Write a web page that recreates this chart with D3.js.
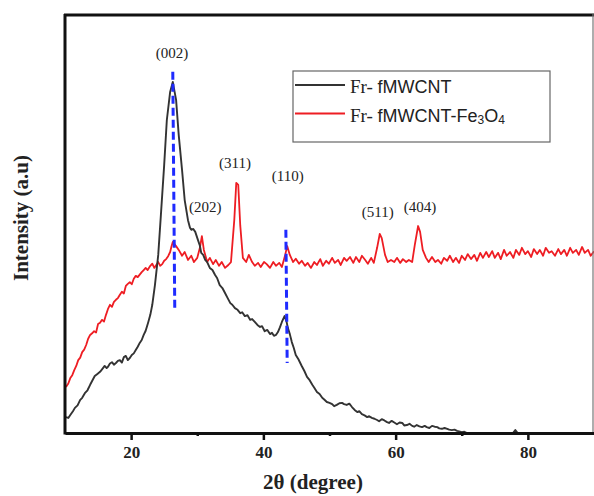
<!DOCTYPE html>
<html>
<head>
<meta charset="utf-8">
<script src="https://cdn.jsdelivr.net/npm/d3@7"></script>
<style>
  body { margin: 0; background: #fff; }
  svg { display: block; }
</style>
</head>
<body>
<div id="graph"></div>
<script>
// Fr- fMWCNT (black)
const mwcntX = [10.15, 10.5, 10.8, 11.2, 11.5, 11.9, 12.3, 12.6, 13.0, 13.4,
  13.8, 14.1, 14.5, 14.9, 15.3, 15.6, 16.0, 16.3, 16.5, 16.8,
  17.1, 17.4, 17.7, 18.0, 18.3, 18.6, 18.9, 19.2, 19.5, 19.8,
  20.1, 20.4, 20.7, 21.0, 21.3, 21.6, 21.9, 22.2, 22.6, 22.9,
  23.2, 23.6, 24.1, 24.5, 25.0, 25.4, 25.9, 26.3, 26.8, 27.2,
  27.7, 28.1, 28.6, 28.9, 29.1, 29.4, 29.7, 30.1, 30.4, 30.6,
  30.9, 31.2, 31.5, 31.9, 32.3, 32.7, 33.0, 33.4, 33.8, 34.2,
  34.6, 35.0, 35.3, 35.7, 36.1, 36.5, 36.8, 37.2, 37.6, 38.0,
  38.3, 38.7, 39.1, 39.5, 39.8, 40.2, 40.6, 41.0, 41.3, 41.6,
  41.9, 42.2, 42.5, 42.8, 43.2, 43.5, 43.7, 44.0, 44.3, 44.6,
  44.9, 45.3, 45.8, 46.2, 46.6, 47.0, 47.4, 47.7, 48.1, 48.5,
  48.9, 49.2, 49.6, 50.0, 50.4, 50.7, 51.1, 51.5, 51.9, 52.2,
  52.6, 53.0, 53.4, 53.8, 54.2, 54.5, 54.9, 55.3, 55.7, 56.0,
  56.4, 56.8, 57.2, 57.5, 57.9, 58.3, 58.7, 59.0, 59.4, 59.8,
  60.2, 60.6, 61.0, 61.3, 61.7, 62.1, 62.5, 62.8, 63.2, 63.6,
  64.0, 64.4, 64.7, 65.1, 65.5, 65.9, 66.3, 66.6, 67.0, 67.4,
  67.8, 68.1, 68.5, 68.9, 69.3, 69.6, 70.0, 70.4, 70.8, 71.5,
  77.6, 78.1, 78.6, 90.0];
const mwcntY = [38, 36, 43, 52, 60, 66, 79, 84, 95, 102,
  115, 124, 136, 141, 146, 152, 160, 155, 158, 166,
  169, 163, 167, 172, 174, 168, 181, 184, 174, 179,
  186, 190, 198, 206, 215, 222, 234, 244, 265, 282,
  306, 353, 425, 520, 640, 747, 814, 838, 795, 711,
  628, 556, 508, 490, 485, 487, 480, 461, 447, 430,
  425, 413, 408, 394, 389, 377, 370, 353, 346, 334,
  322, 310, 306, 298, 294, 286, 288, 279, 281, 270,
  272, 265, 258, 253, 255, 243, 246, 236, 239, 232,
  234, 241, 252, 265, 279, 266, 251, 236, 217, 203,
  186, 176, 160, 148, 134, 126, 115, 108, 98, 93,
  84, 80, 74, 72, 69, 64, 67, 71, 72, 69,
  67, 70, 62, 55, 50, 52, 45, 42, 38, 40,
  36, 34, 31, 28, 33, 30, 26, 24, 29, 25,
  21, 25, 24, 18, 19, 22, 17, 15, 19, 16,
  14, 17, 14, 12, 17, 15, 14, 11, 10, 12,
  10, 8, 7, 8, 5, 4, 2, 3, 0, -3,
  -3, 7, -3, -3];

// Fr- fMWCNT-Fe3O4 (red)
const feX = [10.15, 10.5, 10.8, 11.1, 11.4, 11.7, 12.0, 12.3, 12.6, 12.9,
  13.2, 13.5, 13.8, 14.1, 14.4, 14.7, 15.0, 15.3, 15.6, 15.9,
  16.2, 16.5, 16.8, 17.1, 17.4, 17.7, 18.0, 18.3, 18.6, 18.9,
  19.2, 19.5, 19.8, 20.1, 20.4, 20.7, 21.0, 21.3, 21.6, 21.9,
  22.2, 22.5, 22.9, 23.2, 23.5, 23.8, 24.1, 24.4, 24.7, 25.0,
  25.3, 25.6, 25.9, 26.1, 26.3, 26.8, 27.2, 27.7, 28.1, 28.6,
  29.1, 29.5, 30.0, 30.4, 30.7, 31.0, 31.5,
  31.9, 32.4, 32.8, 33.3, 33.7, 34.2, 34.7, 35.1, 35.6, 35.9, 36.2, 36.5, 36.9, 37.4, 37.8, 38.3, 38.7, 39.2, 39.6, 40.1,
  40.5, 41.0, 41.5, 41.9, 42.4, 42.8, 43.3, 43.6, 44.0, 44.5, 44.9, 45.4, 45.8, 46.3, 46.7, 47.2, 47.7, 48.1, 48.6, 49.0,
  49.5, 49.9, 50.4, 50.8, 51.3, 51.7, 52.2, 52.6, 53.1, 53.6, 54.0, 54.5, 54.9, 55.4, 55.8, 56.3, 56.7, 57.2, 57.6, 57.9,
  58.4, 58.8, 59.3, 59.8, 60.2, 60.7, 61.1, 61.6, 62.0, 62.5, 62.9, 63.4, 63.7, 64.1, 64.6, 65.0, 65.5, 66.0, 66.4, 66.9,
  67.3, 67.8, 68.2, 68.7, 69.1, 69.6, 70.0, 70.5, 70.9, 71.4, 71.9, 72.3, 72.8, 73.2, 73.7, 74.1, 74.6, 75.0, 75.5, 75.9,
  76.4, 76.8, 77.3, 77.8, 78.2, 78.7, 79.1, 79.6, 80.0, 80.5, 80.9, 81.4, 81.8, 82.3, 82.7, 83.2, 83.6, 84.1, 84.6, 85.0,
  85.5, 85.9, 86.4, 86.8, 87.3, 87.7, 88.2, 88.6, 89.1, 89.5, 90.0];
const feY = [110, 118, 131, 138, 150, 160, 174, 180, 193, 199,
  210, 225, 234, 238, 243, 240, 260, 263, 270, 266,
  282, 296, 306, 301, 313, 318, 322, 330, 337, 333,
  351, 356, 360, 355, 368, 375, 372, 378, 384, 389,
  394, 389, 399, 404, 394, 401, 408, 399, 403, 411,
  415, 422, 432, 445, 456, 446, 437, 423, 432, 413,
  423, 408, 418, 442, 470, 437, 408,
  418, 403, 413, 399, 408, 394, 401, 408, 508, 597, 592, 496, 418, 408, 425, 408, 399, 406, 396, 408,
  403, 394, 408, 399, 406, 396, 425, 446, 425, 408, 416, 404, 411, 399, 406, 394, 408, 401, 415, 399,
  411, 404, 418, 406, 413, 401, 418, 411, 420, 406, 420, 408, 423, 413, 404, 418, 406, 442, 475, 465,
  425, 408, 413, 408, 418, 406, 415, 408, 413, 408, 449, 494, 480, 437, 418, 408, 420, 408, 413, 404,
  418, 411, 423, 408, 418, 406, 423, 413, 427, 415, 425, 411, 430, 418, 432, 420, 434, 418, 430, 415,
  437, 423, 432, 418, 437, 425, 442, 427, 434, 420, 439, 427, 437, 423, 442, 430, 434, 423, 439, 427,
  437, 423, 442, 430, 437, 425, 444, 430, 437, 423, 434];

const xTicks = [20, 40, 60, 80];
const xMinorTicks = [30, 50, 70];

// peak annotations (2θ, intensity of label baseline)
const peakLabels = ['(002)', '(202)', '(311)', '(110)', '(511)', '(404)'];
const peakX = [26.2, 31.2, 35.7, 43.7, 57.3, 63.7];
const peakY = [895, 527, 633, 602, 516, 527];

// blue dashed reference lines [top, bottom]
const refX = [[26.3, 26.6], [43.4, 43.6]];
const refY = [[862, 294], [485, 167]];

const seriesNames = ['fMWCNT', 'fMWCNT-Fe'];

const width = 594, height = 496;
const mLeft = 65, mRight = 594, mTop = 14, mBottom = 433;
const serif = "'Liberation Serif', 'Times New Roman', serif";
const sans = "'Liberation Sans', Arial, sans-serif";

const svg = d3.select('#graph')
  .append('svg')
  .attr('width', width)
  .attr('height', height);

const x = d3.scaleLinear().domain([10, 90]).range([mLeft, mRight]);
const y = d3.scaleLinear().domain([0, 1000]).range([mBottom, mTop]);

svg.append('clipPath').attr('id', 'plot')
  .append('rect')
  .attr('x', mLeft).attr('y', mTop)
  .attr('width', mRight - mLeft).attr('height', mBottom - mTop);

const line = d3.line().x(d => x(d[0])).y(d => y(d[1]));

svg.append('path')
  .datum(d3.zip(feX, feY))
  .attr('clip-path', 'url(#plot)')
  .attr('fill', 'none')
  .attr('stroke', '#ee1d23')
  .attr('stroke-width', 1.8)
  .attr('stroke-linejoin', 'round')
  .attr('d', line);

svg.append('path')
  .datum(d3.zip(mwcntX, mwcntY))
  .attr('clip-path', 'url(#plot)')
  .attr('fill', 'none')
  .attr('stroke', '#333')
  .attr('stroke-width', 1.9)
  .attr('stroke-linejoin', 'round')
  .attr('d', line);

svg.selectAll('.ref')
  .data(refX)
  .enter()
  .append('line')
  .attr('class', 'ref')
  .attr('x1', d => x(d[0]))
  .attr('x2', d => x(d[1]))
  .attr('y1', (d, i) => y(refY[i][0]))
  .attr('y2', (d, i) => y(refY[i][1]))
  .attr('stroke', '#1f2bff')
  .attr('stroke-width', 3)
  .attr('stroke-dasharray', '8,4');

svg.selectAll('.peak')
  .data(peakLabels)
  .enter()
  .append('text')
  .attr('class', 'peak')
  .attr('x', (d, i) => x(peakX[i]))
  .attr('y', (d, i) => y(peakY[i]))
  .attr('text-anchor', 'middle')
  .style('font-family', serif)
  .style('font-size', '15px')
  .attr('fill', '#222')
  .text(d => d);

// frame: thick top/left, thin right
svg.append('line')
  .attr('x1', mLeft - 1).attr('x2', mRight).attr('y1', mTop + 1).attr('y2', mTop + 1)
  .attr('stroke', '#111').attr('stroke-width', 3);
svg.append('line')
  .attr('x1', mRight - 1).attr('x2', mRight - 1).attr('y1', mTop).attr('y2', mBottom)
  .attr('stroke', '#777').attr('stroke-width', 1.2);
svg.append('line')
  .attr('x1', mLeft).attr('x2', mLeft).attr('y1', mTop).attr('y2', mBottom + 1.5)
  .attr('stroke', '#111').attr('stroke-width', 3);

const xAxis = d3.axisBottom(x).tickValues(xTicks).tickSize(7).tickSizeOuter(0).tickPadding(6);
const xMinor = d3.axisBottom(x).tickValues(xMinorTicks).tickSize(3).tickSizeOuter(0).tickFormat('');

svg.append('g')
  .attr('transform', `translate(0, ${mBottom})`)
  .call(xMinor)
  .call(g => g.select('.domain').remove())
  .call(g => g.selectAll('line').attr('stroke', '#111').attr('stroke-width', 2.5));

svg.append('g')
  .attr('id', 'x-axis')
  .attr('transform', `translate(0, ${mBottom})`)
  .call(xAxis)
  .call(g => g.select('.domain').attr('stroke', '#111').attr('stroke-width', 3))
  .call(g => g.selectAll('.tick line').attr('stroke', '#111').attr('stroke-width', 2.5))
  .call(g => g.selectAll('text')
    .style('font-family', serif)
    .style('font-size', '17px')
    .style('font-weight', 'bold')
    .attr('fill', '#222'));

svg.append('text')
  .attr('x', 313)
  .attr('y', 489)
  .attr('text-anchor', 'middle')
  .style('font-family', serif)
  .style('font-size', '21px')
  .style('font-weight', 'bold')
  .attr('fill', '#222')
  .text('2θ (degree)');

svg.append('text')
  .attr('x', -218)
  .attr('y', 28)
  .attr('transform', 'rotate(-90)')
  .attr('text-anchor', 'middle')
  .style('font-family', serif)
  .style('font-size', '21px')
  .style('font-weight', 'bold')
  .attr('fill', '#222')
  .text('Intensity (a.u)');

// legend
const legend = svg.append('g');
legend.append('rect')
  .attr('x', 293).attr('y', 71)
  .attr('width', 257).attr('height', 71)
  .attr('fill', '#fff')
  .attr('stroke', '#666')
  .attr('stroke-width', 1.2);

const legendColors = ['#333', '#ee1d23'];
const legendRows = legend.selectAll('.row')
  .data(seriesNames)
  .enter()
  .append('g')
  .attr('class', 'row')
  .attr('transform', (d, i) => `translate(0, ${i * 28.5})`);

legendRows.append('line')
  .attr('x1', 295).attr('x2', 345)
  .attr('y1', 85).attr('y2', 85)
  .attr('stroke', (d, i) => legendColors[i])
  .attr('stroke-width', 1.8);

const legendText = legendRows.append('text')
  .attr('x', 350)
  .attr('y', 93)
  .attr('fill', '#222');
legendText.append('tspan')
  .style('font-family', serif)
  .style('font-size', '19px')
  .text('Fr- ');
legendText.append('tspan')
  .style('font-family', sans)
  .style('font-size', '18px')
  .text(d => d);
legendText.filter((d, i) => i === 1).each(function () {
  const t = d3.select(this);
  t.append('tspan').style('font-family', sans).style('font-size', '12px').attr('dy', 2).text('3');
  t.append('tspan').style('font-family', sans).style('font-size', '18px').attr('dy', -2).text('O');
  t.append('tspan').style('font-family', sans).style('font-size', '12px').attr('dy', 2).text('4');
});
</script>
</body>
</html>
